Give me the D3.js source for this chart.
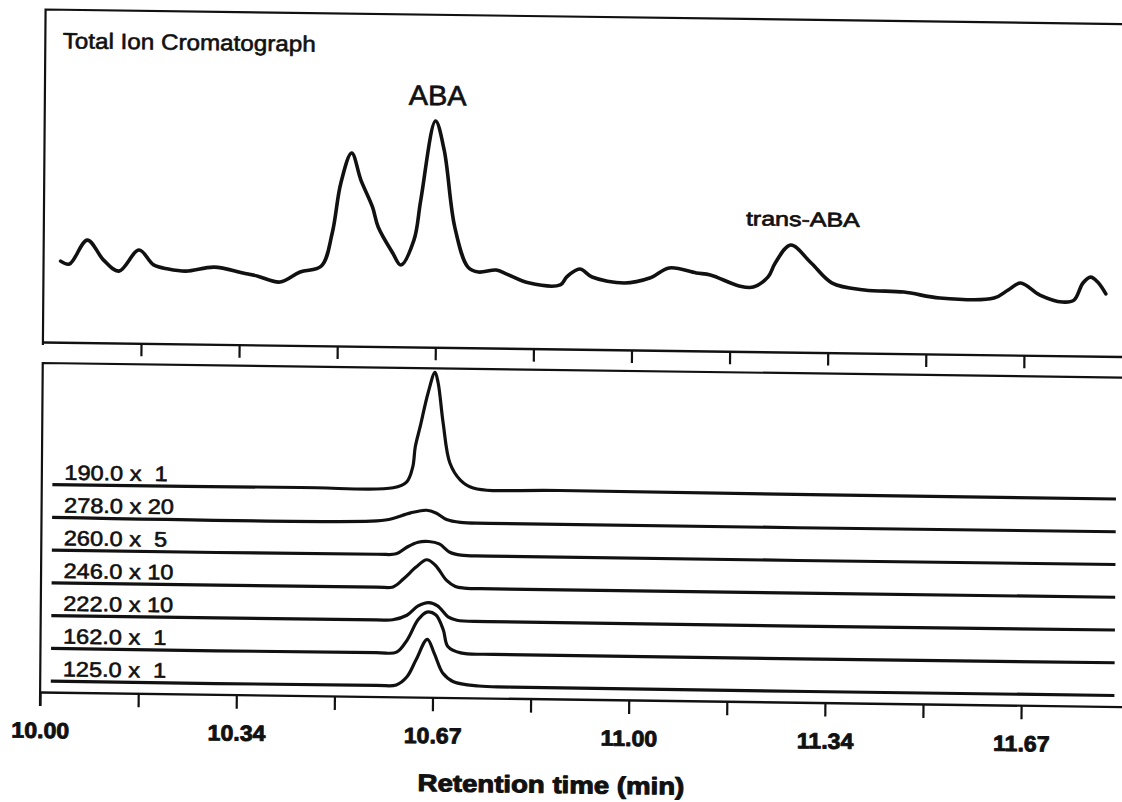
<!DOCTYPE html>
<html>
<head>
<meta charset="utf-8">
<script src="https://cdn.jsdelivr.net/npm/d3@7"></script>
<style>
  body { margin: 0; background: #fff; }
  svg  { display: block; font-family: "Liberation Sans", Arial, Helvetica, sans-serif; }
</style>
</head>
<body>
<svg id="chart" width="1122" height="802"></svg>
<script>
/* Daten */
const ticTitle = "Total Ion Cromatograph";
const axisTitle = "Retention time (min)";

// total ion trace, time (min) / relative intensity
const ticTime = [10.029, 10.044, 10.074, 10.102, 10.128, 10.162, 10.187, 10.212, 10.242, 10.290,
                 10.339, 10.363, 10.402, 10.436, 10.472, 10.490, 10.504, 10.522, 10.538, 10.558,
                 10.568, 10.593, 10.607, 10.629, 10.640, 10.664, 10.679, 10.698, 10.721, 10.739,
                 10.769, 10.787, 10.824, 10.878, 10.889, 10.911, 10.932, 10.987, 11.030, 11.063,
                 11.109, 11.133, 11.182, 11.206, 11.231, 11.243, 11.269, 11.304, 11.340, 11.395,
                 11.462, 11.523, 11.615, 11.639, 11.660, 11.693, 11.731, 11.751, 11.766, 11.779,
                 11.791, 11.805];
const ticValue = [27.0, 25.8, 36.3, 27.7, 23.0, 32.3, 25.9, 24.2, 23.4, 25.3,
                  22.9, 21.7, 19.2, 23.7, 26.4, 40.8, 62.6, 75.7, 64.0, 52.4,
                  43.7, 32.5, 27.3, 38.3, 55.7, 90.1, 77.6, 44.2, 26.8, 24.7,
                  25.7, 24.0, 20.3, 19.6, 23.1, 26.6, 23.2, 20.8, 23.1, 27.6,
                  25.6, 24.8, 20.2, 19.8, 24.3, 30.4, 38.3, 30.6, 22.0, 19.2,
                  18.5, 16.1, 16.4, 20.0, 23.1, 18.0, 15.1, 16.0, 23.5, 26.1,
                  24.0, 18.9];

const peakNames = ["ABA", "trans-ABA"];
const peakTimes = [10.664, 11.269];
const peakValues = [90.1, 38.3];

// selected ions (m/z x gain)
const ionLabels = ["190.0 x  1", "278.0 x 20", "260.0 x  5", "246.0 x 10", "222.0 x 10", "162.0 x  1", "125.0 x  1"];
const ionTimes = [
  [10.018, 10.439, 10.597, 10.620, 10.630, 10.634, 10.642, 10.655, 10.6665, 10.672, 10.681, 10.693, 10.711, 10.733, 10.880, 11.825],
  [10.018, 10.560, 10.590, 10.627, 10.654, 10.670, 10.688, 10.712, 10.760, 11.825],
  [10.018, 10.570, 10.603, 10.621, 10.640, 10.658, 10.676, 10.694, 10.713, 10.760, 11.825],
  [10.018, 10.570, 10.598, 10.616, 10.637, 10.655, 10.670, 10.689, 10.704, 10.719, 10.770, 11.825],
  [10.018, 10.570, 10.598, 10.622, 10.641, 10.659, 10.674, 10.692, 10.707, 10.760, 11.825],
  [10.018, 10.570, 10.605, 10.623, 10.641, 10.656, 10.671, 10.684, 10.692, 10.714, 10.770, 11.825],
  [10.018, 10.570, 10.605, 10.623, 10.638, 10.657, 10.669, 10.684, 10.702, 10.745, 10.800, 11.825]
];
const ionValues = [
  [0, 0.5, 1.5, 7.6, 22.7, 42.8, 62.9, 96.7, 117.5, 106.8, 66.9, 27.0, 10.1, 2.3, 1.0, 0],
  [0, 0.5, 2.4, 9.3, 12.2, 9.6, 3.2, 0.5, 0, 0],
  [0, 0.3, 1.0, 7.7, 12.8, 13.7, 11.5, 3.3, 0.5, 0, 0],
  [0, 0.2, 0.6, 8.9, 20.7, 28.2, 22.6, 7.8, 1.9, 0.4, 0, 0],
  [0, 0.2, 0.5, 5.2, 14.7, 18.2, 15.0, 4.2, 0.9, 0, 0],
  [0, 0.2, 0.9, 13.4, 33.5, 41.4, 38.8, 23.9, 7.3, 1.0, 0, 0],
  [0, 0.2, 0.9, 9.2, 26.0, 46.9, 33.0, 13.1, 4.8, 0.9, 0.3, 0]
];

const tickValues = d3.range(11).map(k => 10 + k / 6);
const tickText = ["10.00", "10.34", "10.67", "11.00", "11.34", "11.67"];

/* Layout */
const left = 42.5, topY = 16.5, ticBottom = 349, ionTop = 370, axisY = 699;
const ink = "#111";

const svg = d3.select("#chart");
// the scanned figure sits slightly skewed on the page
const g = svg.append("g").attr("transform", "matrix(1,0.0135,-0.008,1,3.208,-7.574)");

const x = d3.scaleLinear().domain([10, 11.85]).range([left, left + 1.85 * 588.6]);
const yTic = d3.scaleLinear().domain([0, 100]).range([330, 100]);
const yIon = d3.scalePoint().domain(ionLabels).range([491.5, 688]);
const hIon = d3.scaleLinear().domain([0, 100]).range([0, -100]);
const smooth = d3.curveCatmullRom.alpha(0.5);

function stretch(sel, f) {
  sel.each(function() {
    const w = this.getComputedTextLength();
    d3.select(this).attr("textLength", w * f).attr("lengthAdjust", "spacingAndGlyphs");
  });
}

function inked(sel, w) {
  sel.attr("fill", ink).attr("stroke", ink).attr("stroke-width", w).attr("stroke-linejoin", "round");
}

/* Rahmen */
const xEnd = x.range()[1] + 10;
g.append("path")
  .attr("d", `M${left},${ticBottom + 3}V${topY}H${xEnd}`)
  .attr("fill", "none").attr("stroke", ink).attr("stroke-width", 2.2);
g.append("path")
  .attr("d", `M${xEnd},${ionTop}H${left}V${axisY + 14}`)
  .attr("fill", "none").attr("stroke", ink).attr("stroke-width", 2.2);

/* Achsen */
const topAxis = g.append("g")
  .attr("transform", `translate(0,${ticBottom})`)
  .call(d3.axisBottom(x).tickValues(tickValues.slice(1)).tickSize(13).tickSizeOuter(0).tickFormat(""));

const bottomAxis = g.append("g")
  .attr("transform", `translate(0,${axisY})`)
  .call(d3.axisBottom(x).tickValues(tickValues).tickSize(14).tickSizeOuter(0)
    .tickFormat((d, i) => i % 2 === 0 ? tickText[i / 2] : ""));

[topAxis, bottomAxis].forEach(a => {
  a.select(".domain").attr("stroke", ink).attr("stroke-width", 2.4);
  a.selectAll(".tick line").attr("stroke", ink).attr("stroke-width", 2.2);
});

bottomAxis.selectAll(".tick text")
  .attr("y", 46).attr("dy", null)
  .call(inked, 0.9)
  .style("font-family", '"Liberation Sans", Arial, sans-serif')
  .style("font-size", "22px")
  .style("font-weight", "bold");
stretch(bottomAxis.selectAll(".tick text").filter(function() { return this.textContent !== ""; }), 1.05);

/* TIC */
const ticData = ticTime.map((t, i) => [t, ticValue[i]]);
g.append("path")
  .datum(ticData)
  .attr("fill", "none")
  .attr("stroke", ink)
  .attr("stroke-width", 3.6)
  .attr("stroke-linejoin", "round")
  .attr("stroke-linecap", "round")
  .attr("d", d3.line().x(d => x(d[0])).y(d => yTic(d[1])).curve(smooth));

g.append("text")
  .attr("x", 60).attr("y", 55)
  .style("font-size", "22px")
  .text(ticTitle)
  .call(inked, 0.6)
  .call(stretch, 1.1);

const peakDx = [2, 12], peakDy = [16, 19], peakSize = [28, 20], peakStretch = [1.03, 1.25];
g.selectAll(".peak-label")
  .data(peakNames)
  .join("text")
  .attr("class", "peak-label")
  .attr("x", (d, i) => x(peakTimes[i]) + peakDx[i])
  .attr("y", (d, i) => yTic(peakValues[i]) - peakDy[i])
  .attr("text-anchor", "middle")
  .style("font-size", (d, i) => peakSize[i] + "px")
  .text(d => d)
  .call(inked, 0.7)
  .each(function(d, i) { stretch(d3.select(this), peakStretch[i]); });

/* Ionenspuren */
const ionLine = d3.line().x(d => x(d[0])).y(d => d[2] + hIon(d[1])).curve(smooth);

ionLabels.forEach((lab, k) => {
  const base = yIon(lab);
  const pts = ionTimes[k].map((t, i) => [t, ionValues[k][i], base]);
  g.append("path")
    .datum(pts)
    .attr("fill", "none")
    .attr("stroke", ink)
    .attr("stroke-width", 3.2)
    .attr("stroke-linejoin", "round")
    .attr("d", ionLine);

  g.append("text")
    .attr("x", 65).attr("y", base - 5)
    .style("font-size", "21px")
    .style("white-space", "pre")
    .text(lab)
    .call(inked, 0.6)
    .call(stretch, 1.12);
});

g.append("text")
  .attr("x", 554).attr("y", 793)
  .attr("text-anchor", "middle")
  .style("font-size", "24px")
  .style("font-weight", "bold")
  .text(axisTitle)
  .call(inked, 1)
  .call(stretch, 1.15);
</script>
</body>
</html>
